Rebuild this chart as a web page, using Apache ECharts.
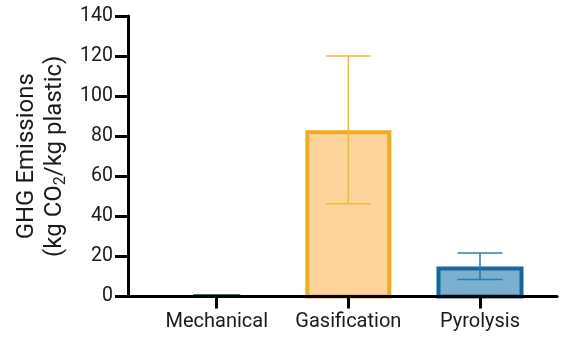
<!DOCTYPE html>
<html>
<head>
<meta charset="utf-8">
<script src="https://cdn.jsdelivr.net/npm/echarts@6/dist/echarts.min.js"></script>
<style>html,body{margin:0;padding:0;background:#fff}#c{width:566px;height:337px}</style>
</head>
<body>
<div id="c"></div>
<script>
// ---- data ----
var categories = ['Mechanical', 'Gasification', 'Pyrolysis'];
var means = [0.5, 82, 14];
var errLow = [0.5, 46.3, 8.5];
var errHigh = [0.5, 120, 21.7];
var yTicks = [0, 20, 40, 60, 80, 100, 120, 140];

// ---- styles ----
var fillColors = ['#2f7d52', '#fdd59c', '#7aafcf'];
var borderColors = ['#2f7d52', '#f4aa1f', '#1467a0'];
var errColors = ['#2f7d52', '#f8b93a', '#2a7db3'];
var barWidths = [44, 82, 83];
var borderWidths = [3, 4, 4];

var chart = echarts.init(document.getElementById('c'));
var font = 'Roboto';
var barData = categories.map(function (c, i) { return [i, means[i]]; });
var errData = categories.map(function (c, i) { return [i, errLow[i], errHigh[i]]; });

chart.setOption({
  animation: false,
  backgroundColor: '#fff',
  grid: { left: 128, right: 9, top: 16, bottom: 40.5 },
  xAxis: {
    type: 'value', min: -0.674, max: 2.585, z: 10,
    splitLine: { show: false },
    axisLine: { show: true, onZero: false, lineStyle: { color: '#000', width: 3 } },
    axisTick: { show: true, customValues: [0, 1, 2], length: 12, lineStyle: { color: '#000', width: 3 } },
    axisLabel: {
      customValues: [0, 1, 2],
      formatter: function (v) { return categories[Math.round(v)]; },
      fontFamily: font, fontSize: 20, color: '#1a1a1a', margin: 15
    }
  },
  yAxis: {
    type: 'value', min: 0, max: 140, interval: 20, z: 10,
    splitLine: { show: false },
    axisLine: { show: true, onZero: false, lineStyle: { color: '#000', width: 3 } },
    axisTick: { show: true, length: 13, lineStyle: { color: '#000', width: 3 } },
    axisLabel: { fontFamily: font, fontSize: 19.5, color: '#1a1a1a', margin: 15,
      formatter: function (v) { return yTicks.indexOf(v) >= 0 ? String(v) : ''; } },
    name: 'GHG Emissions\n(kg CO{sub|2}/kg plastic)',
    nameLocation: 'middle', nameGap: 58, nameRotate: 90,
    nameTextStyle: {
      fontFamily: font, fontSize: 24, lineHeight: 28, color: '#1a1a1a', align: 'center',
      rich: { sub: { fontFamily: font, fontSize: 16, lineHeight: 28, color: '#1a1a1a', padding: [12, 0, 0, 0] } }
    }
  },
  series: [
    {
      type: 'custom', z: 3,
      data: barData,
      encode: { x: 0, y: 1 },
      renderItem: function (params, api) {
        var i = api.value(0);
        var top = api.coord([i, api.value(1)]);
        var base = api.coord([i, 0]);
        var w = barWidths[i];
        return {
          type: 'rect',
          shape: { x: top[0] - w / 2, y: top[1], width: w, height: base[1] - top[1] },
          style: { fill: fillColors[i], stroke: borderColors[i], lineWidth: borderWidths[i] }
        };
      }
    },
    {
      type: 'custom', z: 4,
      data: errData,
      encode: { x: 0, y: [1, 2] },
      renderItem: function (params, api) {
        var i = api.value(0);
        if (i === 0) return null;
        var lo = api.coord([i, api.value(1)]);
        var hi = api.coord([i, api.value(2)]);
        var cw = 22.5;
        var st = { stroke: errColors[i], lineWidth: 1.6 };
        return {
          type: 'group',
          children: [
            { type: 'line', shape: { x1: lo[0], y1: lo[1], x2: hi[0], y2: hi[1] }, style: st },
            { type: 'line', shape: { x1: hi[0] - cw, y1: hi[1], x2: hi[0] + cw, y2: hi[1] }, style: st },
            { type: 'line', shape: { x1: lo[0] - cw, y1: lo[1], x2: lo[0] + cw, y2: lo[1] }, style: st }
          ]
        };
      }
    }
  ]
});
</script>
</body>
</html>
